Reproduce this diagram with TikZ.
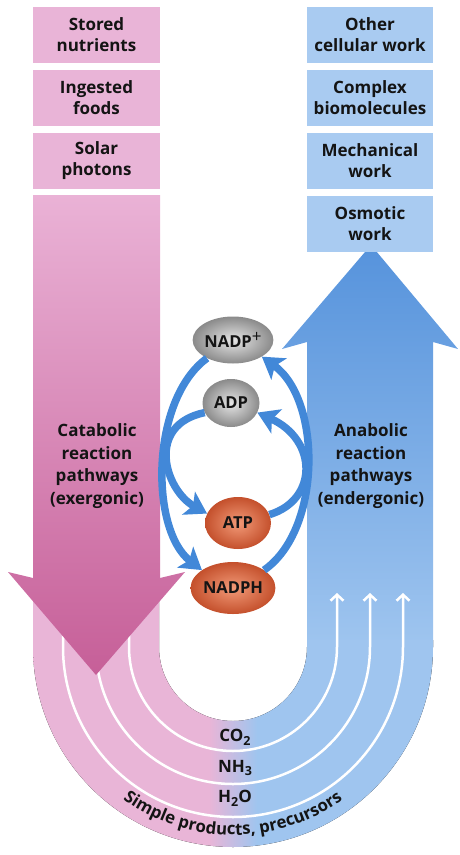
\documentclass[tikz,border=0pt]{standalone}
\usepackage{fontspec}
\setmainfont{Open Sans}
\usetikzlibrary{arrows.meta,shapes.geometric,decorations.text}
\definecolor{boxpink}{HTML}{E9B4D7}
\definecolor{boxblue}{HTML}{A9CBF1}
\definecolor{upink}{HTML}{E9B5D7}
\definecolor{ublue}{HTML}{9FC5EF}
\definecolor{arrtop}{HTML}{5693DC}
\definecolor{pinktop}{HTML}{EAB2D6}
\definecolor{pinkbot}{HTML}{C65F98}
\definecolor{cycblue}{HTML}{4288D8}
\definecolor{greyin}{HTML}{E6E6E6}
\definecolor{greyout}{HTML}{8A8A8A}
\definecolor{orin}{HTML}{F29A78}
\definecolor{orout}{HTML}{C4502C}
\definecolor{inktext}{HTML}{141414}
\pgfdeclarehorizontalshading{ushade}{100bp}{color(0bp)=(upink); color(47bp)=(upink); color(53bp)=(ublue); color(100bp)=(ublue)}
\newcommand\boxfont{\fontsize{17}{21}\selectfont\bfseries}
\newcommand\pathfont{\fontsize{17}{22.7}\selectfont\bfseries}
\newcommand\molfont{\fontsize{16.5}{18}\selectfont\bfseries}
\newcommand\labfont{\fontsize{17}{18}\selectfont\bfseries}
\newcommand\arcfont{\fontsize{16.8}{17}\selectfont\bfseries}
\newcommand\sub[1]{\raisebox{-0.4ex}{\fontsize{12.5}{12}\selectfont #1}}
\begin{document}
\begin{tikzpicture}[x=1pt,y=-1pt,
  pinkbox/.style={fill=boxpink, minimum width=127pt, minimum height=56pt, inner sep=0pt, align=center, font=\boxfont, text=inktext},
  bluebox/.style={fill=boxblue, minimum width=126pt, minimum height=56pt, inner sep=0pt, align=center, font=\boxfont, text=inktext},
  wline/.style={draw=white, line width=2.5pt},
  wtip/.style={-{Straight Barb[length=6pt,width=13pt]}},
  greyball/.style={ellipse, inner sep=0pt, inner color=greyin, outer color=greyout, font=\molfont, text=inktext},
  orball/.style={ellipse, inner sep=0pt, inner color=orin, outer color=orout, font=\molfont, text=inktext},
  cyc/.style={draw=cycblue, line width=7.5pt, -{Stealth[length=21pt,width=26pt,inset=5pt]}},
  lbl/.style={font=\labfont, inner sep=0pt, text=inktext}]
\useasboundingbox (0,0) rectangle (459,855);
% right blue arrow (shaft + head)
\shade[top color=arrtop, bottom color=ublue] (307,647) -- (307,342) -- (282,349) -- (371,245) -- (458,349) -- (433,342) -- (433,647) -- cycle;
% U band
\fill[shading=ushade] (33,560) -- (33,647) arc[start angle=180, end angle=0, radius=200] -- (433,640) -- (307,640) -- (307,647) arc[start angle=0, end angle=180, radius=74] -- (159,560) -- cycle;
% white lines
\foreach \r in {104,137,170}{
  \draw[wline, wtip] (233-\r,560) -- (233-\r,647) arc[start angle=180, end angle=0, radius=\r] -- (233+\r,593);
}
% dark pink catabolic arrow
\shade[top color=pinktop, bottom color=pinkbot] (33,195) -- (160,195) -- (160,578) -- (185,572) -- (96,675) -- (8,572) -- (33,578) -- cycle;
% boxes
\node[pinkbox] (stored) at (96.5,35) {Stored\\nutrients};
\node[pinkbox] (ingested) at (96.5,98) {Ingested\\foods};
\node[pinkbox] (solar) at (96.5,161) {Solar\\photons};
\node[bluebox] (other) at (370,35) {Other\\cellular work};
\node[bluebox] (complex) at (370,98) {Complex\\biomolecules};
\node[bluebox] (mech) at (370,161) {Mechanical\\work};
\node[bluebox] (osm) at (370,224) {Osmotic\\work};
% pathway labels
\node[align=center, font=\pathfont, text=inktext] (cat) at (97,466) {Catabolic\\reaction\\pathways\\(exergonic)};
\node[align=center, font=\pathfont, text=inktext] (ana) at (371,466) {Anabolic\\reaction\\pathways\\(endergonic)};
% molecules
\node[greyball, minimum width=77pt, minimum height=47pt] (nadpp) at (233,340) {NADP\raisebox{0.55ex}{\fontsize{17}{17}\selectfont\mdseries +}};
\node[greyball, minimum width=57pt, minimum height=48pt] (adp) at (231,403) {ADP};
\node[orball, minimum width=66pt, minimum height=52pt] (atp) at (238,523) {ATP};
\node[orball, minimum width=78pt, minimum height=52pt] (nadph) at (233,588) {NADPH};
% cycle arrows
\draw[cyc] (nadpp.215) .. controls (150,400) and (150,530) .. (nadph.150);
\draw[cyc] (adp.200) .. controls (145,425) and (165,490) .. (atp.163);
\draw[cyc] (atp.15) .. controls (318,500) and (318,440) .. (adp.-20);
\draw[cyc] (nadph.30) .. controls (322,530) and (322,400) .. (nadpp.-30);
% small molecules
\node[lbl] (co2) at (235,737) {CO\sub{2}};
\node[lbl] (nh3) at (235,768) {NH\sub{3}};
\node[lbl] (h2o) at (235,798) {H\sub{2}O};
\begin{scope}[y=1pt]
\arcfont
\path[decorate, decoration={text along path, text align=center, text color=inktext, text={Simple products, precursors}}] (45,-647) arc[start angle=180, end angle=360, radius=188];
\end{scope}
\end{tikzpicture}
\end{document}
